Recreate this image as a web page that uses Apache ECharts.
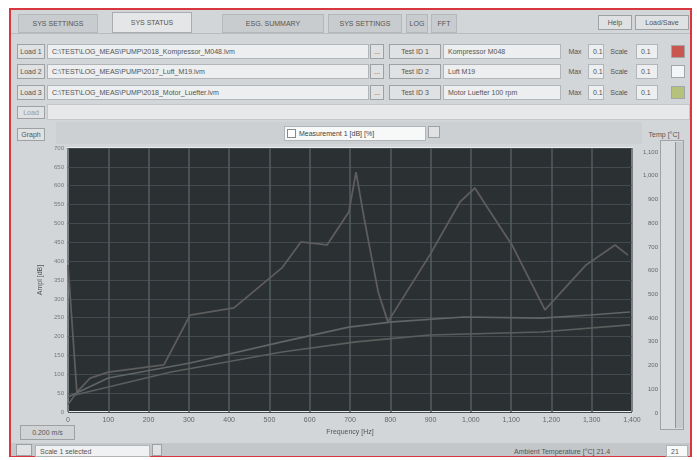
<!DOCTYPE html>
<html>
<head>
<meta charset="utf-8">
<script src="https://cdn.jsdelivr.net/npm/echarts@6/dist/echarts.min.js"></script>
<style>
  body { margin: 0; width: 697px; height: 460px; background: #fff; position: relative; overflow: hidden;
         font-family: "Liberation Sans", "DejaVu Sans", sans-serif; }
  .b { position: absolute; box-sizing: border-box; font-size: 7px; color: #555; white-space: nowrap;
       overflow: hidden; line-height: 1; display: flex; align-items: center; }
  .frame { border: 2px solid #d8373f; background: #d3d6d8; }
  .tab { background: #c9ccce; border: 1px solid #b4b8bb; justify-content: center; }
  .tab.on { background: #e4e6e7; border-color: #a9adb0; }
  .btn { background: #dfe1e2; border: 1px solid #9da1a4; justify-content: center; }
  .txt { background: #eceeef; border: 1px solid #b2b6b9; padding-left: 4px; }
  .lbl { justify-content: center; }
  .bar { background: #e6e8e9; border: 1px solid #c4c7c9; }
  #chart { position: absolute; left: 14px; top: 122px; width: 676px; height: 322px; }
</style>
</head>
<body>
<div id="ui"></div>
<div id="chart"></div>
<script>
// frequency axis [Hz] and the three measured curves
var freqPeak = [0, 22, 55, 100, 238, 303, 412, 531, 578, 643, 697, 715, 735, 770, 794, 898, 973, 1010, 1037, 1102, 1184, 1286, 1358, 1390];
var ampPeak  = [390, 53, 90, 106, 125, 257, 276, 382, 451, 443, 530, 636, 514, 318, 239, 416, 557, 594, 549, 443, 271, 390, 443, 416];
var freqMid = [0, 100, 303, 531, 697, 806, 983, 1174, 1296, 1395];
var ampMid  = [40, 90, 130, 186, 225, 239, 252, 249, 257, 265];
var freqLow = [0, 17, 256, 531, 715, 898, 1174, 1395];
var ampLow  = [20, 45, 106, 159, 186, 204, 212, 231];

var xTicks = [0, 100, 200, 300, 400, 500, 600, 700, 800, 900, 1000, 1100, 1200, 1300, 1400];
var yTicks = [0, 50, 100, 150, 200, 250, 300, 350, 400, 450, 500, 550, 600, 650, 700];
var tempTicks = [0, 100, 200, 300, 400, 500, 600, 700, 800, 900, 1000, 1100];

var tabs = ['SYS SETTINGS', 'SYS STATUS', 'ESG. SUMMARY', 'SYS SETTINGS', 'LOG', 'FFT'];
var loadPaths = ['C:\\TEST\\LOG_MEAS\\PUMP\\2018_Kompressor_M048.lvm', 'C:\\TEST\\LOG_MEAS\\PUMP\\2017_Luft_M19.lvm', 'C:\\TEST\\LOG_MEAS\\PUMP\\2018_Motor_Luefter.lvm'];
var loadNames = ['Kompressor M048', 'Luft M19', 'Motor Luefter 100 rpm'];
var loadColors = ['#c9574f', '#f4f5f6', '#b6c27c'];

function box(x, y, w, h, cls, text, extra) {
  var d = document.createElement('div');
  d.className = 'b ' + cls;
  d.style.left = x + 'px'; d.style.top = y + 'px';
  d.style.width = w + 'px'; d.style.height = h + 'px';
  if (text) d.textContent = text;
  if (extra) d.style.cssText += extra;
  document.getElementById('ui').appendChild(d);
  return d;
}

// window frame
box(9, 8, 683, 449, 'frame');
box(11, 33, 679, 1, '', '', 'background:#b9bcbe');

// tab row
var tabX = [18, 112, 222, 328, 406, 431];
var tabW = [80, 80, 102, 74, 22, 26];
tabs.forEach(function (t, i) {
  box(tabX[i], i === 1 ? 12 : 14, tabW[i], i === 1 ? 21 : 19, 'tab' + (i === 1 ? ' on' : ''), t);
});
box(598, 15, 34, 15, 'btn', 'Help');
box(635, 15, 54, 15, 'btn', 'Load/Save');

// load rows
[44, 64, 85].forEach(function (y, i) {
  box(17, y, 28, 15, 'btn', 'Load ' + (i + 1));
  box(47, y, 322, 15, 'txt', loadPaths[i]);
  box(370, y, 14, 15, 'btn', '...');
  box(389, y, 52, 15, 'btn', 'Test ID ' + (i + 1));
  box(443, y, 118, 15, 'txt', loadNames[i]);
  box(565, y, 20, 15, 'lbl', 'Max');
  box(588, y, 16, 15, 'txt', '0.1');
  box(607, y, 24, 15, 'lbl', 'Scale');
  box(636, y, 22, 15, 'txt', '0.1');
  box(671, y + 1, 14, 13, '', '', 'background:' + loadColors[i] + ';border:1px solid #a3a6a8');
});
box(17, 106, 28, 13, 'btn', 'Load', 'color:#999');
box(47, 104, 643, 16, 'bar');
box(17, 128, 28, 13, 'btn', 'Graph');
box(56, 122, 586, 22, '', '', 'background:#cdd0d2');
box(284, 126, 142, 15, 'txt', 'Measurement 1 [dB]  [%]', 'background:#f7f8f8;padding-left:14px;color:#444');
box(287, 129, 9, 9, '', '', 'background:#fff;border:1px solid #888');
box(428, 126, 12, 12, 'btn');
box(640, 128, 48, 12, 'lbl', 'Temp [°C]');
box(660, 140, 24, 290, '', '', 'border:1px solid #9fa3a6;background:#d9dcdd');
box(675, 142, 8, 286, '', '', 'background:#c7cacc;border-left:1px solid #8f9396');

// bottom strip
box(20, 425, 55, 15, 'btn', '0.200 m/s', 'background:#d0d3d5');
box(11, 443, 679, 13, '', '', 'background:#c4c7c9');
box(16, 444, 16, 12, 'btn', '');
box(35, 445, 115, 12, 'txt', 'Scale 1 selected', 'background:#f0f1f2');
box(152, 444, 10, 12, 'btn', '');
box(507, 445, 110, 12, 'lbl', 'Ambient Temperature [°C]  21.4');
box(666, 445, 22, 12, 'txt', '21', 'background:#f8f9f9');

function pairs(xs, ys) {
  return xs.map(function (x, i) { return [x, ys[i]]; });
}

var chart = echarts.init(document.getElementById('chart'));
chart.setOption({
  animation: false,
  grid: [
    { left: 54, top: 26, width: 564, height: 264, show: true, backgroundColor: '#2b3033',
      borderColor: '#e9ebec', borderWidth: 2 },
    { left: 648, top: 30, width: 10, height: 261, show: false }
  ],
  xAxis: [{
    gridIndex: 0, type: 'value', min: xTicks[0], max: xTicks[xTicks.length - 1], interval: 100,
    name: 'Frequency [Hz]', nameLocation: 'middle', nameGap: 14,
    nameTextStyle: { fontSize: 7, color: '#555' },
    axisLine: { show: false }, axisTick: { show: false },
    axisLabel: { fontSize: 7, color: '#666', margin: 5 },
    splitLine: { show: true, lineStyle: { color: '#535c60', width: 1.5 } }
  }, {
    gridIndex: 1, type: 'value', show: false
  }],
  yAxis: [{
    gridIndex: 0, type: 'value', min: yTicks[0], max: yTicks[yTicks.length - 1], interval: 50,
    name: 'Ampl [dB]', nameLocation: 'middle', nameGap: 16,
    nameTextStyle: { fontSize: 7, color: '#555' },
    axisLine: { show: false }, axisTick: { show: false },
    axisLabel: { fontSize: 6, color: '#777', margin: 4 },
    splitLine: { show: true, lineStyle: { color: '#444b4f', width: 1 } }
  }, {
    gridIndex: 1, type: 'value', min: tempTicks[0], max: tempTicks[tempTicks.length - 1], interval: 100,
    axisLine: { show: false }, axisTick: { show: false },
    axisLabel: { fontSize: 6, color: '#666', margin: 4 },
    splitLine: { show: false }
  }],
  series: [{
    type: 'line', data: pairs(freqPeak, ampPeak), symbol: 'none',
    lineStyle: { color: '#5e5c5d', width: 1.8 }
  }, {
    type: 'line', data: pairs(freqMid, ampMid), symbol: 'none',
    lineStyle: { color: '#606566', width: 1.6 }
  }, {
    type: 'line', data: pairs(freqLow, ampLow), symbol: 'none',
    lineStyle: { color: '#5a5f5d', width: 1.6 }
  }]
});
</script>
</body>
</html>
